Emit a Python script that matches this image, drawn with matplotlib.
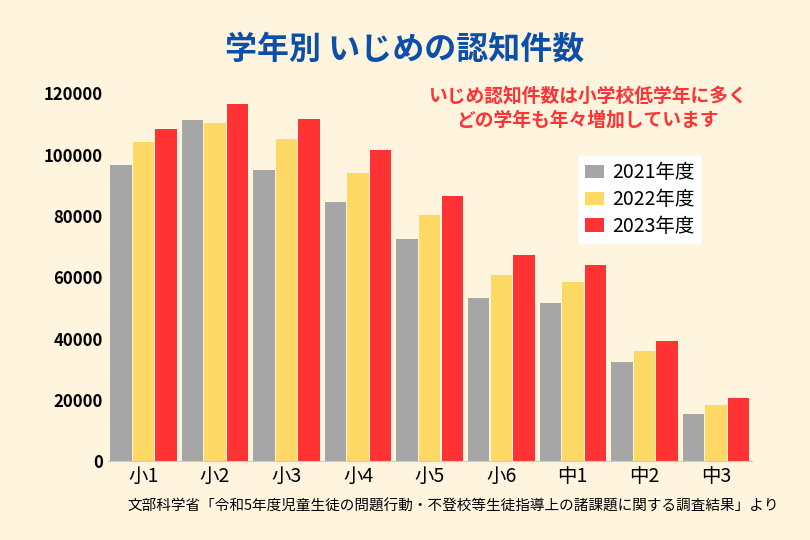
import matplotlib
matplotlib.use("Agg")
import matplotlib.pyplot as plt
import numpy as np

plt.rcParams['font.family'] = ['Noto Sans CJK JP', 'DejaVu Sans']

grades = ["小1", "小2", "小3", "小4", "小5", "小6", "中1", "中2", "中3"]
y2021 = [96500, 111200, 94900, 84500, 72400, 53200, 51500, 32300, 15300]
y2022 = [104300, 110200, 105000, 93900, 80200, 60700, 58400, 35900, 18300]
y2023 = [108300, 116400, 111500, 101400, 86400, 67200, 63900, 39100, 20500]
series = [("2021年度", y2021, "#A6A6A6"), ("2022年度", y2022, "#FFD966"), ("2023年度", y2023, "#FF3333")]

bg = "#FFF5DF"
fig = plt.figure(figsize=(8.1, 5.4), dpi=100, facecolor=bg)
ax = fig.add_axes([0.133, 0.146, 0.795, 0.681], facecolor=bg)
x = np.arange(len(grades))
for k, (lab, vals, col) in enumerate(series):
    ax.bar(x + (k - 1) * 0.315, vals, width=0.3, color=col, label=lab)

ax.set_xlim(-0.5, 8.5); ax.set_ylim(0, 120000)
ax.set_yticks(range(0, 120001, 20000))
ax.set_xticks(x); ax.set_xticklabels(grades, fontsize=14)
ax.tick_params(axis="y", labelsize=12, length=0)
ax.tick_params(axis="x", length=0)
for lbl in ax.get_yticklabels():
    lbl.set_fontweight("bold")
for s in ("top", "right", "left"):
    ax.spines[s].set_visible(False)
ax.spines["bottom"].set_color("#CCCCCC")

leg = ax.legend(loc="upper right", bbox_to_anchor=(0.935, 0.855), fontsize=14, frameon=True,
                fancybox=False, edgecolor="white", framealpha=1, handlelength=1.0,
                handletextpad=0.4, borderpad=0.3, labelspacing=0.3)

fig.text(0.5, 0.908, "学年別 いじめの認知件数", ha="center", va="center",
         fontsize=23, fontweight="bold", color="#0B4FA8")
fig.text(0.725, 0.8, "いじめ認知件数は小学校低学年に多く\nどの学年も年々増加しています",
         ha="center", va="center", fontsize=13.5, fontweight="bold", color="#FF3333", linespacing=1.3)
fig.text(0.962, 0.062, "文部科学省「令和5年度児童生徒の問題行動・不登校等生徒指導上の諸課題に関する調査結果」より",
         ha="right", va="center", fontsize=10.5)

fig.savefig("out.png", dpi=100, facecolor=bg)
